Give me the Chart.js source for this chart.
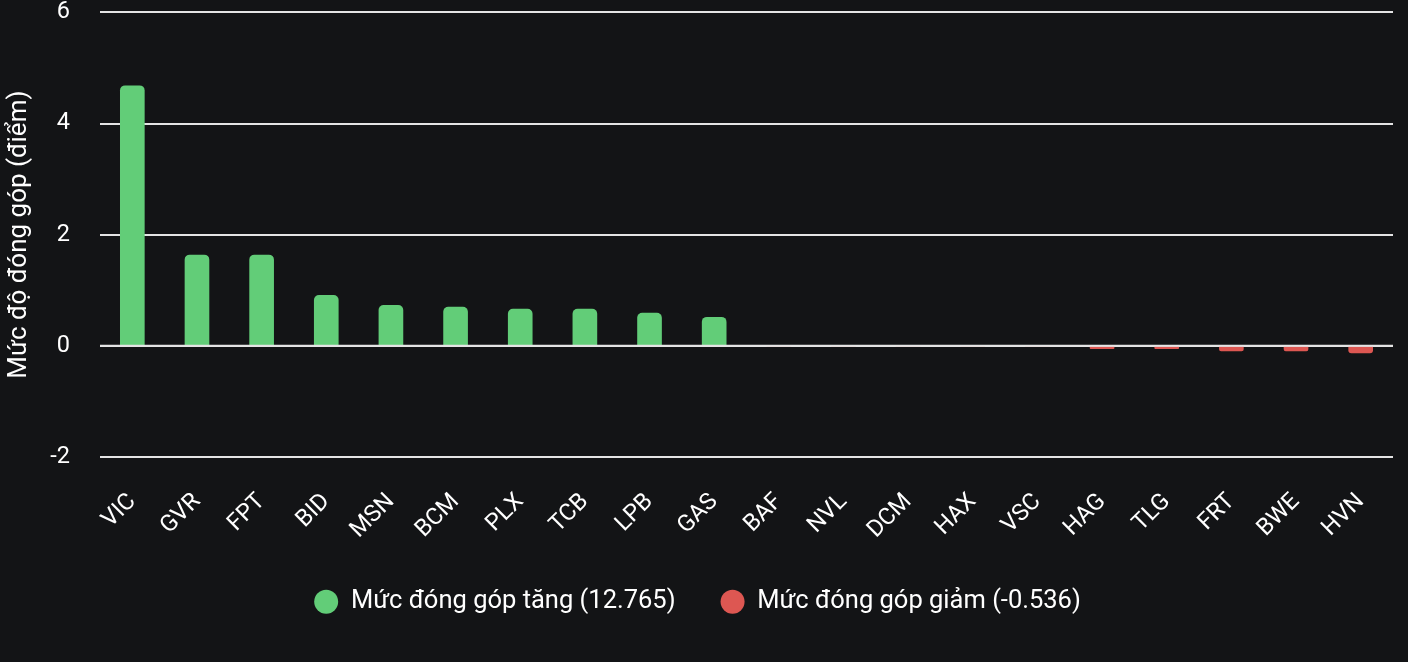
<!DOCTYPE html>
<html>
<head>
<meta charset="utf-8">
<script src="https://cdn.jsdelivr.net/npm/chart.js@4/dist/chart.umd.min.js"></script>
<style>
  html, body { margin: 0; padding: 0; background: #131416; }
  #wrap { position: relative; width: 1408px; height: 662px; }
</style>
</head>
<body>
<div id="wrap"><canvas id="c"></canvas></div>
<script>
// Top contributors to the index, in points
const tickers = ['VIC', 'GVR', 'FPT', 'BID', 'MSN', 'BCM', 'PLX', 'TCB', 'LPB', 'GAS',
  'BAF', 'NVL', 'DCM', 'HAX', 'VSC', 'HAG', 'TLG', 'FRT', 'BWE', 'HVN'];
const gains = [4.68, 1.635, 1.635, 0.91, 0.73, 0.695, 0.66, 0.66, 0.59, 0.515,
  null, null, null, null, null, null, null, null, null, null];
const losses = [null, null, null, null, null, null, null, null, null, null,
  0, 0, 0, 0, 0, -0.05, -0.05, -0.09, -0.09, -0.126];
const gainLabel = 'Mức đóng góp tăng (12.765)';
const lossLabel = 'Mức đóng góp giảm (-0.536)';
const yTitle = 'Mức độ đóng góp (điểm)';

const GREEN = '#62CD78';
const RED = '#DD5752';
const GRID = '#e4e4e4';

Chart.defaults.font.family = 'Roboto';
Chart.defaults.color = '#ffffff';

// redraw the zero line above the bars so negatives sit under it
const zeroLine = {
  id: 'zeroLine',
  afterDatasetsDraw(chart) {
    const { ctx, chartArea, scales } = chart;
    const y = scales.y.getPixelForValue(0);
    ctx.save();
    ctx.strokeStyle = GRID;
    ctx.lineWidth = 2;
    ctx.beginPath();
    ctx.moveTo(chartArea.left, y);
    ctx.lineTo(chartArea.right, y);
    ctx.stroke();
    ctx.restore();
  },
};

new Chart(document.getElementById('c'), {
  type: 'bar',
  data: {
    labels: tickers,
    datasets: [
      { label: gainLabel, data: gains, backgroundColor: GREEN, borderWidth: 0, borderRadius: 5, barThickness: 24 },
      { label: lossLabel, data: losses, backgroundColor: RED, borderWidth: 0, borderRadius: 5, barThickness: 24 },
    ],
  },
  options: {
    responsive: true, maintainAspectRatio: false, animation: false,
    layout: { padding: { top: 0, right: 15, bottom: 37.5, left: 2 } },
    plugins: {
      legend: {
        position: 'bottom',
        labels: {
          usePointStyle: true, pointStyle: 'circle',
          boxWidth: 24, boxHeight: 17, pointStyleWidth: 24,
          padding: 45,
          color: '#ffffff',
          font: { size: 25.5 },
        },
      },
      tooltip: { enabled: false },
    },
    scales: {
      x: {
        stacked: true,
        grid: { display: false },
        border: { display: false },
        ticks: { color: '#ffffff', font: { size: 23.5 }, minRotation: 45, maxRotation: 45, padding: 23 },
        afterFit: (s) => { s.height = 87; },
      },
      y: {
        stacked: true,
        min: -2, max: 6,
        grid: { color: GRID, lineWidth: 2, drawTicks: true, tickLength: 30, tickColor: 'rgba(0,0,0,0)' },
        border: { display: false },
        ticks: { stepSize: 2, color: '#ffffff', font: { size: 23.5, lineHeight: 1.05 }, padding: 0 },
        title: { display: true, text: yTitle, color: '#ffffff', font: { size: 26 }, padding: 2 },
        afterFit: (s) => { s.width = 98; },
      },
    },
  },
  plugins: [zeroLine],
});
</script>
</body>
</html>
